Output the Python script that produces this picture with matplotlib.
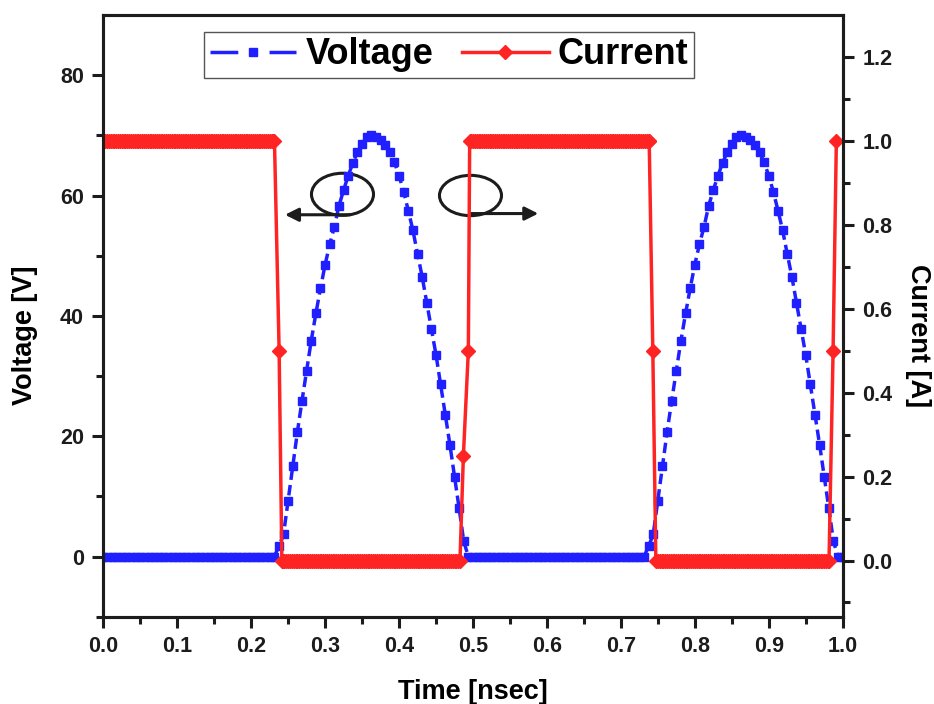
import numpy as np
import matplotlib.pyplot as plt
from matplotlib.patches import Ellipse
from matplotlib.lines import Line2D

plt.rcParams['font.family'] = ['Liberation Sans', 'DejaVu Sans']
plt.rcParams['font.weight'] = 'bold'

dt_v = 0.00625
hump = [1.7, 3.7, 9.3, 15.0, 20.7, 25.9, 30.9, 35.9, 40.4, 44.6,
        48.5, 51.9, 54.8, 58.3, 60.9, 63.3, 65.4, 67.2, 68.6, 69.7,
        70.0, 69.8, 69.2, 68.4, 67.2, 65.5, 63.3, 60.6, 57.5, 54.2,
        50.3, 46.5, 42.2, 37.8, 33.5, 28.6, 23.6, 18.6, 13.3, 8.0,
        2.5, 0.0]
voltage = [0.0] * 38 + hump + [0.0] * 38 + hump + [0.0]
t_volt = np.arange(len(voltage)) * dt_v

# current: flat parts sampled every 0.0025 ns, switching edges read separately
dt_i = 0.0025
flat_level = [1.0, 0.0, 1.0, 0.0]
flat_start = [0.0, 0.2425, 0.4975, 0.75]
flat_end = [0.23, 0.48, 0.7375, 0.98]
edge_t = [[0.2315, 0.2378, 0.2415],
          [0.4824, 0.487, 0.4937, 0.4955],
          [0.7383, 0.7432, 0.7473],
          [0.9815, 0.987, 0.9914]]
edge_i = [[1.0, 0.5, 0.0],
          [0.0, 0.25, 0.5, 1.0],
          [1.0, 0.5, 0.0],
          [0.0, 0.5, 1.0]]

t_cur, i_cur = [], []
for lvl, a, b, et, ei in zip(flat_level, flat_start, flat_end, edge_t, edge_i):
    n = int(round((b - a) / dt_i)) + 1
    t_cur += list(a + dt_i * np.arange(n))
    i_cur += [lvl] * n
    t_cur += et
    i_cur += ei

blue = '#1f1fff'
red = '#ff2424'
ink = '#1c1c1c'

fig = plt.figure(figsize=(9.34, 7.04), dpi=100)
fig.subplots_adjust(left=103.3 / 934, right=842.7 / 934,
                    bottom=1 - 616.7 / 704, top=1 - 15 / 704)
ax = fig.add_subplot(111)
ax2 = ax.twinx()

ax.plot(t_volt, voltage, color=blue, lw=2.5, ls=(0, (3, 1.5)),
        marker='s', ms=6, mec=blue)
ax2.plot(t_cur, i_cur, color=red, lw=2.5, marker='D', ms=7, mec=red)

ax.set_xlim(0, 1.0)
ax.set_ylim(-10, 90)
ax2.set_ylim(-0.134, 1.301)

ax.set_xticks(np.arange(0, 1.01, 0.1))
ax.set_xticks(np.arange(0.05, 1.0, 0.1), minor=True)
ax.set_yticks([0, 20, 40, 60, 80])
ax.set_yticks([-10, 10, 30, 50, 70], minor=True)
ax2.set_yticks([0.0, 0.2, 0.4, 0.6, 0.8, 1.0, 1.2])
ax2.set_yticks([-0.1, 0.1, 0.3, 0.5, 0.7, 0.9, 1.1], minor=True)
ax.xaxis.set_major_formatter(plt.FormatStrFormatter('%.1f'))
ax2.yaxis.set_major_formatter(plt.FormatStrFormatter('%.1f'))

for a in (ax, ax2):
    for s in a.spines.values():
        s.set_linewidth(2.2)
        s.set_color(ink)
    a.tick_params(which='major', direction='out', length=8, width=2.2,
                  labelsize=15.5, pad=6, colors=ink)
    a.tick_params(which='minor', direction='out', length=5, width=2.2,
                  colors=ink)

ax.set_xlabel('Time [nsec]', fontsize=19.5, fontweight='bold')
ax.set_ylabel('Voltage [V]', fontsize=19.5, fontweight='bold')
ax2.set_ylabel('Current [A]', fontsize=19.5, fontweight='bold',
               rotation=270)
ax.xaxis.set_label_coords(0.5, -0.104)
ax.yaxis.set_label_coords(-0.088, 0.468)
ax2.yaxis.set_label_coords(1.12, 0.468)

# ellipses + arrows pointing to the matching axis
ax.add_patch(Ellipse((0.3235, 60.2), 0.0839, 7.0, fill=False, lw=2.2, ec=ink))
ax.add_patch(Ellipse((0.4966, 60.0), 0.0839, 6.7, fill=False, lw=2.2, ec=ink))
arrow = dict(arrowstyle='-|>', lw=2.2, color=ink, mutation_scale=20,
             shrinkA=0, shrinkB=0)
ax.annotate('', xy=(0.2457, 56.8), xytext=(0.3337, 56.8), arrowprops=arrow)
ax.annotate('', xy=(0.5883, 57.0), xytext=(0.4966, 57.0), arrowprops=arrow)

h_v = Line2D([], [], color=blue, lw=2.5, ls=(0, (8, 9)), marker='s',
             ms=6, mec=blue)
h_i = Line2D([], [], color=red, lw=2.5, marker='D', ms=7, mec=red)
leg = ax2.legend([h_v, h_i], ['Voltage', 'Current'], ncol=2,
                 loc='upper center', bbox_to_anchor=(0.4676, 0.9717),
                 borderaxespad=0, fontsize=26, handlelength=2.4,
                 handletextpad=0.25, columnspacing=0.8, borderpad=0.15,
                 fancybox=False, edgecolor='#555555', framealpha=1)
leg.get_frame().set_linewidth(1.0)

plt.savefig('out.png', dpi=100)
